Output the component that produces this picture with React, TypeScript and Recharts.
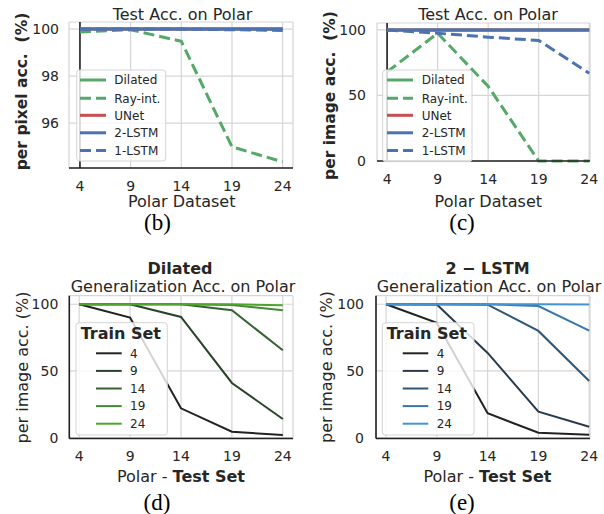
import React from "react";
import { LineChart, Line, XAxis, YAxis, CartesianGrid, ReferenceLine } from "recharts";

// ---- data ----
const testSets = [4, 9, 14, 19, 24];

// (b) per pixel accuracy on Polar
const pixDilated = [100, 100, 100, 100, 100];
const pixRayInt = [99.87, 99.97, 99.48, 94.99, 94.35];
const pixUNet = [100, 100, 100, 100, 100];
const pixLstm2 = [100, 100, 100, 100, 100];
const pixLstm1 = [100, 100, 100, 99.97, 99.94];

// (c) per image accuracy on Polar
const imgDilated = [100, 100, 100, 100, 100];
const imgRayInt = [68, 97.5, 57, 0, 0];
const imgUNet = [100, 100, 100, 100, 100];
const imgLstm2 = [100, 100, 100, 100, 100];
const imgLstm1 = [100, 97.5, 94.5, 92, 67];

// (d) Dilated, one row per train set, values over the test sets
const trainSets = ["4", "9", "14", "19", "24"];
const dilTrain4 = [100, 90, 22, 4.5, 2];
const dilTrain9 = [100, 100, 90.5, 41, 14];
const dilTrain14 = [100, 100, 100, 95.5, 65.5];
const dilTrain19 = [100, 100, 100, 99.5, 95.5];
const dilTrain24 = [100, 100, 100, 100, 99.2];

// (e) 2-LSTM
const lstmTrain4 = [100, 86, 18.3, 3.7, 2.3];
const lstmTrain9 = [100, 99.8, 63.5, 19.5, 8.2];
const lstmTrain14 = [100, 100, 99.7, 80, 42.5];
const lstmTrain19 = [100, 100, 100, 98.7, 80.2];
const lstmTrain24 = [100, 100, 100, 100, 99.8];

const methodNames = ["Dilated", "Ray-int.", "UNet", "2-LSTM", "1-LSTM"];
const methodColors = ["#55a868", "#55a868", "#c44e52", "#4c72b0", "#4c72b0"];
const methodDash = [undefined, "11 5", undefined, undefined, "11 5"];
const greenShades = ["#222222", "#29432a", "#35632f", "#428a33", "#4fa52c"];
const blueShades = ["#222222", "#283a4c", "#2d5677", "#3777ab", "#4394d2"];

const FONT = "DejaVu Sans";
const INK = "#262626";

const pixRows = testSets.map((x, i) => ({
  x,
  m0: pixDilated[i],
  m1: pixRayInt[i],
  m2: pixUNet[i],
  m3: pixLstm2[i],
  m4: pixLstm1[i],
}));
const imgRows = testSets.map((x, i) => ({
  x,
  m0: imgDilated[i],
  m1: imgRayInt[i],
  m2: imgUNet[i],
  m3: imgLstm2[i],
  m4: imgLstm1[i],
}));
const dilRows = testSets.map((x, i) => ({
  x,
  t0: dilTrain4[i],
  t1: dilTrain9[i],
  t2: dilTrain14[i],
  t3: dilTrain19[i],
  t4: dilTrain24[i],
}));
const lstmRows = testSets.map((x, i) => ({
  x,
  t0: lstmTrain4[i],
  t1: lstmTrain9[i],
  t2: lstmTrain14[i],
  t3: lstmTrain19[i],
  t4: lstmTrain24[i],
}));

type Series = { key: string; color: string; dash?: string; width: number };

const methodSeries: Series[] = methodNames.map((_, i) => ({
  key: "m" + i,
  color: methodColors[i],
  dash: methodDash[i],
  width: 3,
}));
const greenSeries: Series[] = trainSets.map((_, i) => ({ key: "t" + i, color: greenShades[i], width: 2 }));
const blueSeries: Series[] = trainSets.map((_, i) => ({ key: "t" + i, color: blueShades[i], width: 2 }));

interface PanelProps {
  left: number;
  top: number;
  plotLeft: number;
  plotRight: number;
  plotTop: number;
  plotBottom: number;
  xDomain: [number, number];
  yDomain: [number, number];
  yTicks: number[];
  yTickMargin: number;
  data: any[];
  series: Series[];
  markerAt4?: boolean; // (b)/(c) draw the dark vertical at x=4 instead of a left spine
}

function Panel(p: PanelProps) {
  const width = 300;
  const xh = 40;
  const mt = p.plotTop - p.top;
  const yw = p.plotLeft - p.left;
  const mr = p.left + width - p.plotRight;
  const height = p.plotBottom - p.top + xh;
  const tickStyle = { fontFamily: FONT, fontSize: 14, fill: INK };
  return (
    <div style={{ position: "absolute", left: p.left, top: p.top }}>
      <LineChart width={width} height={height} data={p.data} margin={{ top: mt, right: mr, bottom: 0, left: 0 }}>
        <CartesianGrid stroke="#d6d6d6" strokeWidth={1.2} />
        <XAxis
          dataKey="x"
          type="number"
          domain={p.xDomain}
          ticks={testSets}
          interval={0}
          height={xh}
          tickLine={false}
          tickSize={0}
          tickMargin={13}
          axisLine={{ stroke: "#222", strokeWidth: 1.6 }}
          tick={tickStyle}
        />
        <YAxis
          type="number"
          domain={p.yDomain}
          ticks={p.yTicks}
          interval={0}
          width={yw}
          tickLine={false}
          tickSize={0}
          tickMargin={p.yTickMargin}
          axisLine={p.markerAt4 ? false : { stroke: "#222", strokeWidth: 1.6 }}
          tick={tickStyle}
        />
        {p.markerAt4 && <ReferenceLine x={4} stroke="#222" strokeWidth={1.6} />}
        {p.series.map((s) => (
          <Line
            key={s.key}
            dataKey={s.key}
            stroke={s.color}
            strokeWidth={s.width}
            strokeDasharray={s.dash}
            dot={false}
            activeDot={false}
            isAnimationActive={false}
          />
        ))}
      </LineChart>
    </div>
  );
}

interface LegendProps {
  box: [number, number, number, number];
  title?: string;
  titleX?: number;
  titleY?: number;
  labels: string[];
  rows: number[];
  series: Series[];
  sampleX: [number, number];
  textX: number;
  fontSize: number;
}

function LegendBox(l: LegendProps) {
  const [x0, y0, x1, y1] = l.box;
  return (
    <g>
      <rect x={x0} y={y0} width={x1 - x0} height={y1 - y0} rx={3} fill="#ffffff" fillOpacity={0.8} stroke="#d4d4d4" strokeWidth={1} />
      {l.title && (
        <text x={l.titleX} y={l.titleY} fontFamily={FONT} fontSize={16} fontWeight="bold" fill={INK}>
          {l.title}
        </text>
      )}
      {l.labels.map((lab, i) => (
        <g key={lab + i}>
          <line
            x1={l.sampleX[0]}
            x2={l.sampleX[1]}
            y1={l.rows[i]}
            y2={l.rows[i]}
            stroke={l.series[i].color}
            strokeWidth={l.series[i].width}
            strokeDasharray={l.series[i].dash}
          />
          <text x={l.textX} y={l.rows[i] + l.fontSize * 0.36} fontFamily={FONT} fontSize={l.fontSize} fill={INK}>
            {lab}
          </text>
        </g>
      ))}
    </g>
  );
}

const topRows = [80, 98.2, 115.3, 132.8, 150.6];
const botRows = [353.3, 370.9, 388.5, 406.1, 423.7];

export default function App() {
  const t = { fontFamily: FONT, fill: INK };
  return (
    <div style={{ position: "absolute", left: 0, top: 0, width: 604, height: 514, background: "#fff", overflow: "hidden" }}>
      <Panel
        left={0}
        top={0}
        plotLeft={69}
        plotRight={293}
        plotTop={22}
        plotBottom={168}
        xDomain={[2.92, 25.02]}
        yDomain={[94.09, 100.3]}
        yTicks={[96, 98, 100]}
        yTickMargin={10}
        data={pixRows}
        series={methodSeries}
        markerAt4
      />
      <Panel
        left={302}
        top={0}
        plotLeft={377}
        plotRight={590}
        plotTop={23}
        plotBottom={161}
        xDomain={[3.0, 24.08]}
        yDomain={[0, 105.3]}
        yTicks={[0, 50, 100]}
        yTickMargin={11}
        data={imgRows}
        series={methodSeries}
        markerAt4
      />
      <Panel
        left={0}
        top={255}
        plotLeft={69.3}
        plotRight={293}
        plotTop={295.7}
        plotBottom={438.5}
        xDomain={[3.03, 25.0]}
        yDomain={[-0.6, 106.4]}
        yTicks={[0, 50, 100]}
        yTickMargin={11}
        data={dilRows}
        series={greenSeries}
      />
      <Panel
        left={302}
        top={255}
        plotLeft={376}
        plotRight={590}
        plotTop={295.7}
        plotBottom={438.5}
        xDomain={[3.01, 24.08]}
        yDomain={[-0.6, 106.4]}
        yTicks={[0, 50, 100]}
        yTickMargin={12}
        data={lstmRows}
        series={blueSeries}
      />
      <svg width={604} height={514} style={{ position: "absolute", left: 0, top: 0, pointerEvents: "none" }}>
        {/* titles */}
        <text x={182.5} y={19.5} textAnchor="middle" fontSize={16} {...t}>Test Acc. on Polar</text>
        <text x={488} y={19.5} textAnchor="middle" fontSize={16} {...t}>Test Acc. on Polar</text>
        <text x={180} y={274} textAnchor="middle" fontSize={16} fontWeight="bold" {...t}>Dilated</text>
        <text x={183} y={292} textAnchor="middle" fontSize={16} {...t}>Generalization Acc. on Polar</text>
        <text x={487.5} y={274} textAnchor="middle" fontSize={16} fontWeight="bold" {...t}>2 − LSTM</text>
        <text x={489} y={292} textAnchor="middle" fontSize={16} {...t}>Generalization Acc. on Polar</text>

        {/* axis labels */}
        <text x={181.7} y={207} textAnchor="middle" fontSize={16} {...t}>Polar Dataset</text>
        <text x={488.3} y={207} textAnchor="middle" fontSize={16} {...t}>Polar Dataset</text>
        <text x={181} y={481.5} textAnchor="middle" fontSize={16} {...t}>
          Polar - <tspan fontWeight="bold">Test Set</tspan>
        </text>
        <text x={487.5} y={481.5} textAnchor="middle" fontSize={16} {...t}>
          Polar - <tspan fontWeight="bold">Test Set</tspan>
        </text>
        <text transform="translate(27,91.5) rotate(-90)" textAnchor="middle" fontSize={15.5} fontWeight="bold" xmlSpace="preserve" {...t}>
          per pixel acc.  (%)
        </text>
        <text transform="translate(335,95.5) rotate(-90)" textAnchor="middle" fontSize={15.5} fontWeight="bold" xmlSpace="preserve" {...t}>
          per image acc.  (%)
        </text>
        <text transform="translate(28,367.5) rotate(-90)" textAnchor="middle" fontSize={16} {...t}>per image acc. (%)</text>
        <text transform="translate(332,367) rotate(-90)" textAnchor="middle" fontSize={16} {...t}>per image acc. (%)</text>

        {/* legends */}
        <LegendBox box={[76.7, 70, 165.7, 161]} labels={methodNames} rows={topRows} series={methodSeries} sampleX={[80, 106]} textX={114.3} fontSize={12} />
        <LegendBox box={[382.7, 70, 472, 161.7]} labels={methodNames} rows={topRows} series={methodSeries} sampleX={[387, 413]} textX={421.7} fontSize={12} />
        <LegendBox
          box={[76, 322.7, 167.3, 435]}
          title="Train Set"
          titleX={80.7}
          titleY={339.3}
          labels={trainSets}
          rows={botRows}
          series={greenSeries}
          sampleX={[96, 121.7]}
          textX={130}
          fontSize={12}
        />
        <LegendBox
          box={[382.3, 322.7, 474, 435]}
          title="Train Set"
          titleX={386.7}
          titleY={339.3}
          labels={trainSets}
          rows={botRows}
          series={blueSeries}
          sampleX={[402.7, 428.3]}
          textX={436.7}
          fontSize={12}
        />

        {/* captions */}
        <text x={157.5} y={230} textAnchor="middle" fontFamily="Liberation Serif" fontSize={23} fill="#000">(b)</text>
        <text x={462} y={230} textAnchor="middle" fontFamily="Liberation Serif" fontSize={23} fill="#000">(c)</text>
        <text x={157} y={509.5} textAnchor="middle" fontFamily="Liberation Serif" fontSize={23} fill="#000">(d)</text>
        <text x={462} y={509.5} textAnchor="middle" fontFamily="Liberation Serif" fontSize={23} fill="#000">(e)</text>
      </svg>
    </div>
  );
}
